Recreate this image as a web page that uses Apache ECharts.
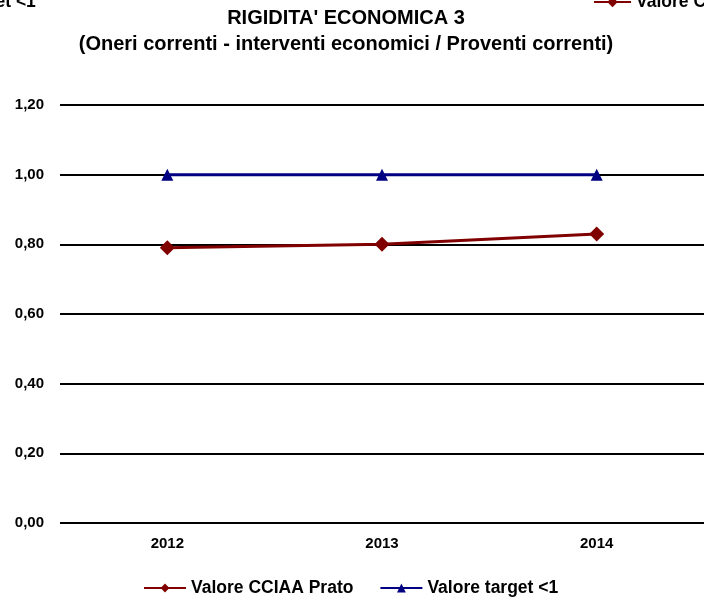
<!DOCTYPE html>
<html>
<head>
<meta charset="utf-8">
<script src="https://cdn.jsdelivr.net/npm/echarts@6/dist/echarts.min.js"></script>
<style>
    html, body { margin: 0; padding: 0; background: #fff; }
    #chart { width: 704px; height: 600px; }
</style>
</head>
<body>
<div id="chart"></div>
<script>
// dati del grafico
const anni = ['2012', '2013', '2014'];
const valoreCciaa = [0.79, 0.80, 0.83];
const valoreTarget = [1.00, 1.00, 1.00];
const nomeCciaa = 'Valore CCIAA Prato';
const nomeTarget = 'Valore target <1';

const font = 'Liberation Sans, Arial, sans-serif';
const testoLegenda = { color: '#000', fontWeight: 'bold', fontSize: 17.5, fontFamily: font };

const chart = echarts.init(document.getElementById('chart'));
chart.setOption({
    animation: false,
    title: {
        text: "RIGIDITA' ECONOMICA 3\n(Oneri correnti - interventi economici / Proventi correnti)",
        left: 341,
        textAlign: 'center',
        top: 0,
        textStyle: { color: '#000', fontWeight: 'bold', fontSize: 20, fontFamily: font, lineHeight: 26 }
    },
    legend: [
        {
            // legenda in basso
            bottom: -2,
            left: 138,
            itemGap: 26,
            itemWidth: 42,
            itemHeight: 11,
            data: [nomeCciaa, nomeTarget],
            textStyle: testoLegenda
        },
        {
            // copia tagliata in alto a sinistra
            top: -12,
            left: -148,
            itemWidth: 42,
            itemHeight: 11,
            data: [nomeTarget],
            textStyle: testoLegenda
        },
        {
            // copia tagliata in alto a destra
            top: -12,
            left: 588,
            itemWidth: 37,
            itemHeight: 13,
            data: [nomeCciaa],
            textStyle: testoLegenda
        }
    ],
    grid: { left: 60, right: -4, top: 105, bottom: 77 },
    xAxis: {
        type: 'category',
        data: anni,
        boundaryGap: true,
        axisLine: { show: false },
        axisTick: { show: false },
        axisLabel: { color: '#000', fontWeight: 'bold', fontSize: 15, fontFamily: font, margin: 13 }
    },
    yAxis: {
        type: 'value',
        min: 0,
        max: 1.2,
        interval: 0.2,
        axisLine: { show: false },
        axisTick: { show: false },
        splitLine: { lineStyle: { color: '#000', width: 2 } },
        axisLabel: {
            color: '#000', fontWeight: 'bold', fontSize: 15, fontFamily: font, margin: 16,
            formatter: v => v.toFixed(2).replace('.', ',')
        }
    },
    series: [
        {
            name: nomeCciaa,
            type: 'line',
            data: valoreCciaa,
            symbol: 'diamond',
            symbolSize: 15,
            itemStyle: { color: '#800000' },
            lineStyle: { color: '#800000', width: 3 }
        },
        {
            name: nomeTarget,
            type: 'line',
            data: valoreTarget,
            symbol: 'triangle',
            symbolSize: 12,
            itemStyle: { color: '#000080' },
            lineStyle: { color: '#000080', width: 3 }
        }
    ]
});
</script>
</body>
</html>
